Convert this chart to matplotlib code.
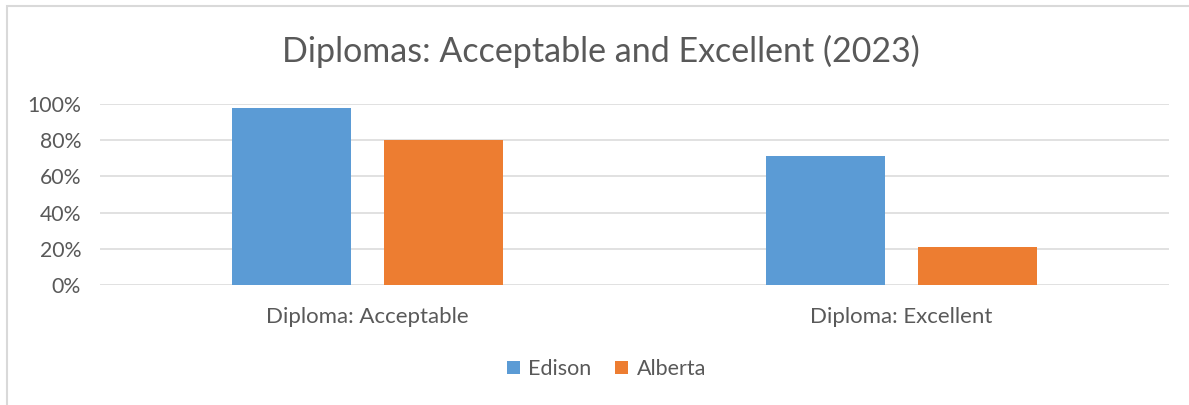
import matplotlib.pyplot as plt
import numpy as np
from matplotlib.patches import Rectangle
from matplotlib.ticker import PercentFormatter

# Diploma results, share of students
categories = ["Diploma: Acceptable", "Diploma: Excellent"]
series = ["Edison", "Alberta"]
edison = [0.98, 0.71]
alberta = [0.80, 0.21]
colors = ["#5B9BD5", "#ED7D31"]
y_ticks = [0, 0.2, 0.4, 0.6, 0.8, 1.0]

plt.rcParams["font.family"] = ["Lato", "DejaVu Sans"]
text_color = "#595959"
grid_color = "#D9D9D9"

fig = plt.figure(figsize=(11.89, 4.05), dpi=100)
ax = fig.add_axes([100.5 / 1189, 1 - 285 / 405, 1068 / 1189, 181 / 405])

x = np.arange(len(categories))
width = 0.223
offset = 0.285
ax.bar(x - offset / 2, edison, width, color=colors[0], label=series[0], zorder=3)
ax.bar(x + offset / 2, alberta, width, color=colors[1], label=series[1], zorder=3)

ax.set_xlim(-0.5, len(categories) - 0.5)
ax.set_ylim(0, 1.0)
ax.set_yticks(y_ticks)
ax.yaxis.set_major_formatter(PercentFormatter(1.0, decimals=0))
ax.set_xticks(x)
ax.set_xticklabels(categories)
ax.grid(axis="y", color=grid_color, linewidth=1.1, zorder=0)
ax.tick_params(axis="x", length=0, labelsize=16, colors=text_color, pad=16)
ax.tick_params(axis="y", length=0, labelsize=15.3, colors=text_color, pad=14)
for s in ax.spines.values():
    s.set_visible(False)

fig.suptitle("Diplomas: Acceptable and Excellent (2023)", x=0.5055, y=1 - 51 / 405,
             va="center", fontsize=24.5, color=text_color)

fig.legend(loc="center", bbox_to_anchor=(0.51, 1 - 369 / 405), ncol=2, frameon=False,
           fontsize=15.5, labelcolor=text_color, handlelength=0.6, handleheight=0.6,
           handletextpad=0.4, columnspacing=1.1)

# light frame around the chart area
fig.patches.append(Rectangle((7 / 1189, -0.1), 1.2, 1 - 5.5 / 405 + 0.1,
                             transform=fig.transFigure, fill=False,
                             edgecolor=grid_color, linewidth=1.5))

fig.savefig("out.png", dpi=100, facecolor="white")
